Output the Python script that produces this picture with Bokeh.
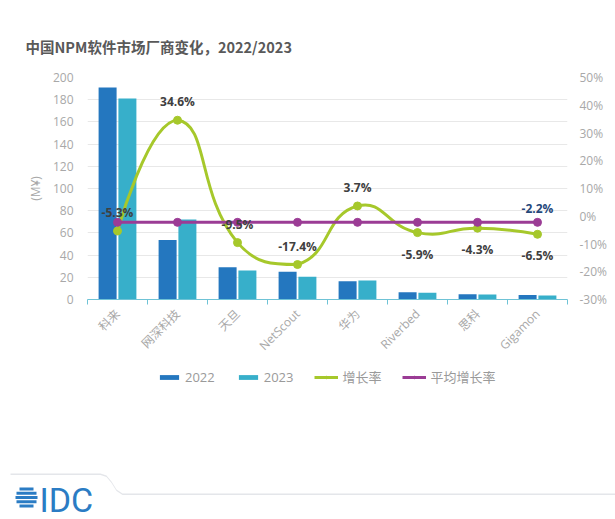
import math
from bokeh.plotting import figure
from bokeh.layouts import column
from bokeh.models import (Range1d, LinearAxis, FixedTicker, ColumnDataSource, LabelSet, Label,
                          Legend, LegendItem, PolyAnnotation, BoxAnnotation, PrintfTickFormatter)
from bokeh.transform import dodge
from bokeh.embed import file_html
from bokeh.resources import INLINE
from bokeh.core.properties import value

# ---------------- data ----------------
vendors = ["科来", "网深科技", "天旦", "NetScout", "华为", "Riverbed", "思科", "Gigamon"]
revenue_2022 = [191.0, 53.5, 29.0, 25.0, 16.5, 6.5, 4.8, 4.0]
revenue_2023 = [181.0, 72.0, 26.2, 20.6, 17.1, 6.1, 4.6, 3.7]
growth_rate = [-5.3, 34.6, -9.5, -17.4, 3.7, -5.9, -4.3, -6.5]
avg_growth_rate = [-2.2, -2.2, -2.2, -2.2, -2.2, -2.2, -2.2, -2.2]
left_ticks = [0, 20, 40, 60, 80, 100, 120, 140, 160, 180, 200]
right_ticks = [-30, -20, -10, 0, 10, 20, 30, 40, 50]
series_names = ["2022", "2023", "增长率", "平均增长率"]
title_text = "中国NPM软件市场厂商变化，2022/2023"
unit_label = "(M¥)"

# label placement (style): above / below the growth point
growth_label_side = ["above", "above", "above", "above", "above", "below", "below", "below"]

# ---------------- style ----------------
FONT = "'Open Sans', 'Noto Sans CJK SC', sans-serif"
CJK = "'Noto Sans CJK SC', sans-serif"
C22, C23, CG, CA = "#2477bf", "#37afca", "#a6c82b", "#9b3c95"
TICK_C = "#a8a8a8"
W, H = 615, 519
H1 = 362                     # main chart height
H2 = H - H1                  # legend / footer strip
BL, BR, BT, BB = 87, 48, 77, 63
FW, FH = W - BL - BR, H1 - BT - BB
n = len(vendors)
X0, X1 = 0, n
P0, P1 = right_ticks[0], right_ticks[-1]

p = figure(width=W, height=H1, output_backend="svg", toolbar_location=None,
           x_range=Range1d(X0, X1), y_range=Range1d(left_ticks[0], left_ticks[-1]),
           min_border_left=BL, min_border_right=BR, min_border_top=BT, min_border_bottom=BB,
           background_fill_color="white", border_fill_color="white", outline_line_color=None)
p.frame_align = False
p.extra_y_ranges = {"pct": Range1d(P0, P1)}

# title
p.title.text = title_text
p.title.align = "left"
p.title.offset = -62
p.title.standoff = 42
p.title.text_font = CJK
p.title.text_font_size = "14.5px"
p.title.text_font_style = "bold"
p.title.text_color = "#595959"

centers = [i + 0.5 for i in range(n)]
src = ColumnDataSource(dict(x=centers, v22=revenue_2022, v23=revenue_2023, g=growth_rate,
                            a=avg_growth_rate, name=vendors))

# axes
xa = p.xaxis[0]
xa.ticker = FixedTicker(ticks=centers, minor_ticks=list(range(n + 1)))
xa.major_label_overrides = {c: nm for c, nm in zip(centers, vendors)}
xa.major_label_orientation = math.pi / 4
xa.major_tick_line_color = None
xa.major_tick_in = 0
xa.major_tick_out = 5
xa.minor_tick_line_color = "#6fc3d6"
xa.minor_tick_in = 0
xa.minor_tick_out = 5
xa.axis_line_color = "#6fc3d6"
xa.major_label_text_color = TICK_C
xa.major_label_text_font = FONT
xa.major_label_text_font_size = "12px"
xa.major_label_standoff = 7

ya = p.yaxis[0]
ya.ticker = FixedTicker(ticks=left_ticks)
ya.axis_line_color = None
ya.major_tick_line_color = None
ya.major_tick_out = 0
ya.major_tick_in = 0
ya.minor_tick_line_color = None
ya.minor_tick_out = 0
ya.major_label_text_color = TICK_C
ya.major_label_text_font = FONT
ya.major_label_text_font_size = "12px"
ya.major_label_standoff = 14
ya.axis_label = unit_label
ya.axis_label_text_font = FONT
ya.axis_label_text_font_style = "normal"
ya.axis_label_text_font_size = "12px"
ya.axis_label_text_color = TICK_C
ya.axis_label_standoff = 6

ra = LinearAxis(y_range_name="pct", ticker=FixedTicker(ticks=right_ticks),
                formatter=PrintfTickFormatter(format="%d%%"))
ra.axis_line_color = None
ra.major_tick_line_color = None
ra.major_tick_out = 0
ra.major_tick_in = 0
ra.minor_tick_line_color = None
ra.minor_tick_out = 0
ra.major_label_text_color = TICK_C
ra.major_label_text_font = FONT
ra.major_label_text_font_size = "12px"
ra.major_label_standoff = 12
p.add_layout(ra, "right")

p.xgrid.grid_line_color = None
p.ygrid.ticker = FixedTicker(ticks=left_ticks)
p.ygrid.grid_line_color = "#e8e8e8"

# bars
bar_kw = dict(width=0.3, line_color=None)
p.vbar(x=dodge("x", -0.165, range=p.x_range), top="v22", source=src, fill_color=C22, **bar_kw)
p.vbar(x=dodge("x", 0.165, range=p.x_range), top="v23", source=src, fill_color=C23, **bar_kw)

# smooth growth curve (ECharts-style bezier smoothing, computed in pixel space)
sx = FW / (X1 - X0)
sy = FH / (P1 - P0)
pts = [(x * sx, g * sy) for x, g in zip(centers, growth_rate)]
mnx = min(q[0] for q in pts); mxx = max(q[0] for q in pts)
mny = min(q[1] for q in pts); mxy = max(q[1] for q in pts)
def clamp(c):
    return (min(max(c[0], mnx), mxx), min(max(c[1], mny), mxy))
smooth = 0.5
seg = dict(x0=[], y0=[], x1=[], y1=[], cx0=[], cy0=[], cx1=[], cy1=[])
cp0 = pts[0]
for i in range(1, n):
    qx, qy = pts[i - 1]
    px, py = pts[i]
    if i == n - 1:
        cp1 = (px, py)
        ncp0 = None
    else:
        nx, ny = pts[i + 1]
        vx, vy = nx - qx, ny - qy
        lp = math.hypot(px - qx, py - qy)
        ln = math.hypot(nx - px, ny - py)
        r = ln / (ln + lp)
        cp1 = (px - vx * smooth * (1 - r), py - vy * smooth * (1 - r))
        ncp0 = (px + vx * smooth * r, py + vy * smooth * r)
    c0 = clamp(cp0); c1 = clamp(cp1)
    seg["x0"].append(qx / sx); seg["y0"].append(qy / sy)
    seg["x1"].append(px / sx); seg["y1"].append(py / sy)
    seg["cx0"].append(c0[0] / sx); seg["cy0"].append(c0[1] / sy)
    seg["cx1"].append(c1[0] / sx); seg["cy1"].append(c1[1] / sy)
    cp0 = ncp0
p.bezier(x0="x0", y0="y0", x1="x1", y1="y1", cx0="cx0", cy0="cy0", cx1="cx1", cy1="cy1",
         source=ColumnDataSource(seg), line_color=CG, line_width=3, y_range_name="pct")
p.scatter(x="x", y="g", source=src, size=8, fill_color=CG, line_color=CG, y_range_name="pct")
p.line(x="x", y="a", source=src, line_color=CA, line_width=3, y_range_name="pct")
p.scatter(x="x", y="a", source=src, size=8, fill_color=CA, line_color=CA, y_range_name="pct")

# data labels
above_idx = [i for i, s in enumerate(growth_label_side) if s == "above"]
below_idx = [i for i, s in enumerate(growth_label_side) if s == "below"]
def sub(idx):
    return ColumnDataSource(dict(x=[centers[i] for i in idx], g=[growth_rate[i] for i in idx],
                                 t=[f"{growth_rate[i]:.1f}%" for i in idx]))
lab_kw = dict(text_font=value(FONT), text_font_size="12px", text_font_style="bold",
              text_color="#404040", text_align="center", y_range_name="pct")
p.add_layout(LabelSet(x="x", y="g", text="t", source=sub(above_idx), y_offset=10,
                      text_baseline="bottom", **lab_kw))
p.add_layout(LabelSet(x="x", y="g", text="t", source=sub(below_idx), y_offset=-13,
                      text_baseline="top", **lab_kw))
avg_src = ColumnDataSource(dict(x=[centers[-1]], a=[avg_growth_rate[-1]],
                                t=[f"{avg_growth_rate[-1]:.1f}%"]))
p.add_layout(LabelSet(x="x", y="a", text="t", source=avg_src, y_offset=5, text_baseline="bottom",
                      text_font=value(FONT), text_font_size="12px", text_font_style="bold",
                      text_color="#24477a", text_align="center", y_range_name="pct"))

# ---------------- legend + footer strip ----------------
p2 = figure(width=W, height=H2, output_backend="svg", toolbar_location=None,
            x_range=Range1d(0, W), y_range=Range1d(H2, 0),
            x_axis_location=None, y_axis_location=None,
            min_border_left=0, min_border_right=0, min_border_top=0, min_border_bottom=0,
            background_fill_color="white", border_fill_color="white", outline_line_color=None)
p2.frame_align = False
p2.xgrid.grid_line_color = None
p2.ygrid.grid_line_color = None
# legend proxies: same series mapped through a range that lies outside this strip's view
p2.extra_x_ranges = {"proxy": Range1d(-100, -99)}
pk = dict(source=src, x_range_name="proxy")
r22 = p2.vbar(x="x", top="v22", fill_color=C22, **bar_kw, **pk)
r23 = p2.vbar(x="x", top="v23", fill_color=C23, **bar_kw, **pk)
rgl = p2.line(x="x", y="g", line_color=CG, line_width=3, **pk)
rgs = p2.scatter(x="x", y="g", size=8, fill_color=CG, line_color=CG, **pk)
ral = p2.line(x="x", y="a", line_color=CA, line_width=3, **pk)
ras = p2.scatter(x="x", y="a", size=8, fill_color=CA, line_color=CA, **pk)
legend = Legend(items=[LegendItem(label=series_names[0], renderers=[r22]),
                       LegendItem(label=series_names[1], renderers=[r23]),
                       LegendItem(label=series_names[2], renderers=[rgl, rgs]),
                       LegendItem(label=series_names[3], renderers=[ral, ras])],
                orientation="horizontal", location=(157, H2 - 24))
legend.label_text_font = FONT
legend.label_text_font_size = "13px"
legend.label_text_color = "#9a9a9a"
legend.glyph_width = 24
legend.glyph_height = 6
legend.label_standoff = 4
legend.spacing = 21
legend.border_line_color = None
legend.background_fill_alpha = 0
legend.margin = 0
legend.padding = 2
p2.add_layout(legend, "center")

# footer: IDC logo + divider (strip pixel coordinates, y downward)
p2.add_layout(Label(x=39, y=499 - H1, text="IDC", text_font="Roboto", text_font_size="34px",
                    text_color="#2b7cc4", text_baseline="alphabetic"))
icx, icy = 26, 497 - H1
for yc, w in [(-8.5, 14), (-4.2, 20), (0, 22), (4.2, 20), (8.5, 14)]:
    p2.add_layout(BoxAnnotation(left=icx - w / 2, right=icx + w / 2, top=icy + yc - 1.5,
                                bottom=icy + yc + 1.5, fill_color="#2b7cc4", fill_alpha=1,
                                line_color=None))
path = [(10, 473), (100, 473), (106, 475), (111, 481), (116, 489), (122, 493), (615, 493)]
xs = [q[0] for q in path] + [q[0] for q in reversed(path)]
ys = [q[1] - H1 for q in path] + [q[1] - H1 + 1.5 for q in reversed(path)]
p2.add_layout(PolyAnnotation(xs=xs, ys=ys, fill_color="#e4e6ea", fill_alpha=1, line_color=None))

html = file_html(column(p, p2, spacing=0), INLINE, title="NPM")
open("out.html", "w").write(html)
